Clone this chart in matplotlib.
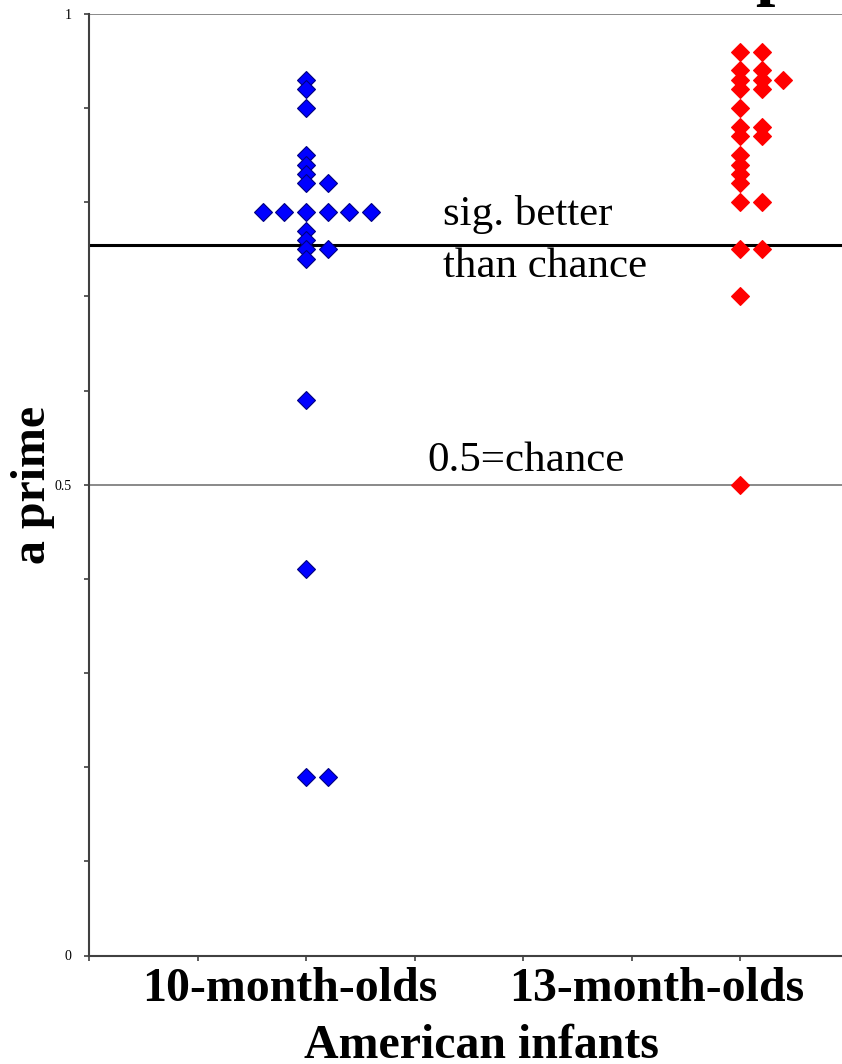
import matplotlib
matplotlib.use("Agg")
import matplotlib.pyplot as plt
from matplotlib.ticker import MultipleLocator, FixedLocator
from collections import Counter

plt.rcParams['font.family'] = ['Liberation Serif', 'DejaVu Serif']

# a-prime scores per infant
ten_month = [0.93, 0.92, 0.90, 0.85, 0.84, 0.83, 0.82, 0.82,
             0.79, 0.79, 0.79, 0.79, 0.79, 0.79,
             0.77, 0.76, 0.75, 0.75, 0.74, 0.59, 0.41, 0.19, 0.19]
thirteen_month = [0.96, 0.96, 0.94, 0.94, 0.93, 0.93, 0.93, 0.92, 0.92,
                  0.90, 0.88, 0.88, 0.87, 0.87, 0.85, 0.84, 0.83, 0.82,
                  0.80, 0.80, 0.75, 0.75, 0.70, 0.50]
groups = ["10-month-olds", "13-month-olds"]
sig_level = 0.755
chance = 0.5

W, H = 842, 1064


def spread(values, centre, step=0.05):
    # side-by-side placement of tied scores
    counts = Counter(values)
    seen = Counter()
    xs = []
    for v in values:
        n = counts[v]
        start = -(n // 2 - 1) if n > 3 else 0
        xs.append(centre + (start + seen[v]) * step)
        seen[v] += 1
    return xs


fig = plt.figure(figsize=(W / 100, H / 100), dpi=100)
ax = fig.add_axes([89 / W, (H - 955.5) / H, 1 - 89 / W, (955.5 - 14) / H])

ax.axhline(1.0, color='#808080', lw=1.3, zorder=1)
ax.axhline(chance, color='#808080', lw=1.3, zorder=1)
ax.axhline(sig_level, color='black', lw=2.2, zorder=2)

ax.plot(spread(ten_month, 1.0), ten_month, 'D', ms=9.6,
        color='#0000ff', mec='#000080', mew=0.8, zorder=3)
ax.plot(spread(thirteen_month, 2.0), thirteen_month, 'D', ms=9.6,
        color='#ff0000', mec='#ff0000', mew=0.8, zorder=3)

ax.set_xlim(0.5, 0.5 + 753 / 434)
ax.set_ylim(0, 1)
ax.spines['top'].set_visible(False)
ax.spines['right'].set_visible(False)
for s in ('left', 'bottom'):
    ax.spines[s].set_color('#404040')
    ax.spines[s].set_linewidth(1.5)

ax.xaxis.set_major_locator(MultipleLocator(0.25))
ax.set_xticklabels([])
ax.yaxis.set_major_locator(FixedLocator([0, 0.5, 1]))
ax.yaxis.set_minor_locator(MultipleLocator(0.1))
ax.set_yticklabels(['0', '0.5', '1'])
ax.tick_params(axis='both', which='both', direction='out', length=3.5,
               width=1.2, color='#404040', labelsize=10, pad=9)

ax.text(1.316, 0.776, "sig. better", fontsize=31)
ax.text(1.316, 0.721, "than chance", fontsize=31)
ax.text(1.279, 0.5146, "0.5=chance", fontsize=31)

fig.text(290 / W, 1 - 1001 / H, groups[0], ha='center', va='baseline',
         fontsize=34.5, fontweight='bold')
fig.text(657 / W, 1 - 1001 / H, groups[1], ha='center', va='baseline',
         fontsize=34.5, fontweight='bold')
fig.text(481 / W, 1 - 1058 / H, "American infants", ha='center',
         va='baseline', fontsize=34.5, fontweight='bold')
fig.text(33 / W, 1 - 485 / H, "a prime", rotation=90, ha='center',
         va='center', fontsize=34.5, fontweight='bold')

# tail of the heading above the plot
fig.text(755 / W, 1 + 8 / H, "p", ha='left', va='baseline',
         fontsize=50, fontweight='bold')

fig.savefig("out.png", dpi=100)
